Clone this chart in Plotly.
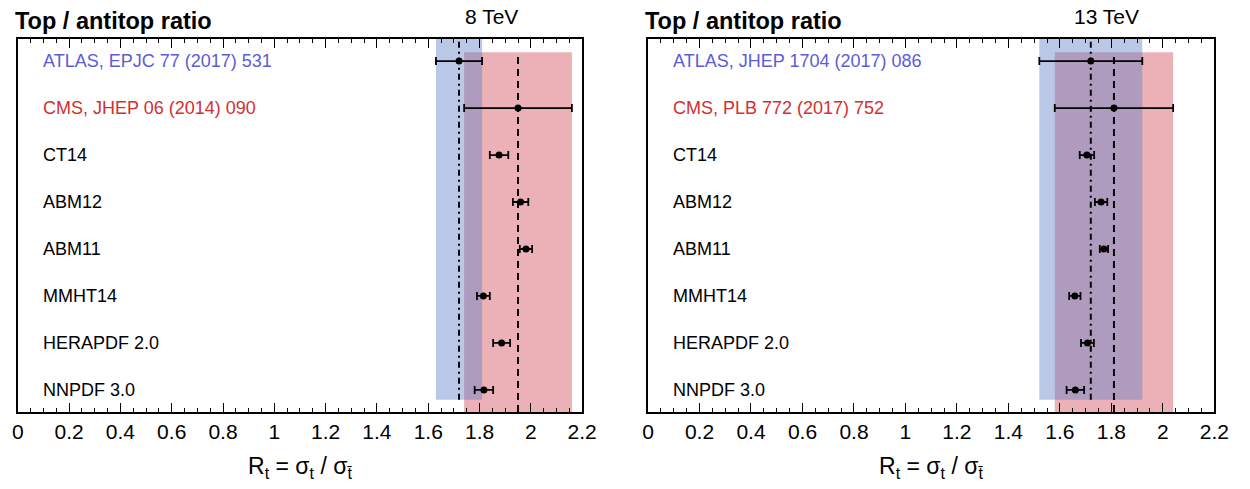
import plotly.graph_objects as go
from plotly.subplots import make_subplots

# ---------------- data ----------------
labels_8 = ["ATLAS, EPJC 77 (2017) 531", "CMS, JHEP 06 (2014) 090", "CT14", "ABM12",
            "ABM11", "MMHT14", "HERAPDF 2.0", "NNPDF 3.0"]
labels_13 = ["ATLAS, JHEP 1704 (2017) 086", "CMS, PLB 772 (2017) 752", "CT14", "ABM12",
             "ABM11", "MMHT14", "HERAPDF 2.0", "NNPDF 3.0"]
row_pos = [7, 6, 5, 4, 3, 2, 1, 0]

val_8 = [1.72, 1.95, 1.876, 1.960, 1.981, 1.815, 1.886, 1.817]
err_8 = [0.09, 0.21, 0.036, 0.030, 0.024, 0.025, 0.033, 0.036]
val_13 = [1.72, 1.81, 1.705, 1.760, 1.771, 1.658, 1.707, 1.660]
err_13 = [0.20, 0.23, 0.028, 0.024, 0.016, 0.022, 0.025, 0.034]

energies = ["8 TeV", "13 TeV"]
x_ticks = [0, 0.2, 0.4, 0.6, 0.8, 1, 1.2, 1.4, 1.6, 1.8, 2, 2.2]
x_ticktext = ["0", "0.2", "0.4", "0.6", "0.8", "1", "1.2", "1.4", "1.6", "1.8", "2", "2.2"]

# ---------------- style ----------------
W, H = 1250, 489
FONT = "Liberation Sans, Arial, sans-serif"
BLUE_TXT = "#5c5cd8"
RED_TXT = "#d42f2f"
BLUE_BAND = "rgba(90,125,200,0.42)"
RED_BAND = "rgba(212,85,95,0.46)"
Y_RANGE = [-0.47, 7.47]
BLUE_BOTTOM = -0.21
RED_TOP = 7.19
LABEL_X = 0.09

frames_px = [(12, 586), (653, 1229)]
top_px, bot_px = 39, 412

fig = make_subplots(rows=1, cols=2)

panels = [(val_8, err_8, labels_8), (val_13, err_13, labels_13)]
for i, (vals, errs, labs) in enumerate(panels):
    col = i + 1
    xr = "x" if i == 0 else "x2"
    yr = "y" if i == 0 else "y2"
    # bands: CMS (red) then ATLAS (blue) on top
    fig.add_shape(type="rect", xref=xr, yref=yr,
                  x0=vals[1] - errs[1], x1=vals[1] + errs[1], y0=Y_RANGE[0], y1=RED_TOP,
                  fillcolor=RED_BAND, line_width=0, layer="below")
    fig.add_shape(type="rect", xref=xr, yref=yr,
                  x0=vals[0] - errs[0], x1=vals[0] + errs[0], y0=BLUE_BOTTOM, y1=Y_RANGE[1],
                  fillcolor=BLUE_BAND, line_width=0, layer="below")
    # central lines
    fig.add_shape(type="line", xref=xr, yref=yr, x0=vals[0], x1=vals[0],
                  y0=BLUE_BOTTOM, y1=Y_RANGE[1],
                  line=dict(color="black", width=2, dash="6px,4px,2px,4px"))
    fig.add_shape(type="line", xref=xr, yref=yr, x0=vals[1], x1=vals[1],
                  y0=Y_RANGE[0], y1=RED_TOP,
                  line=dict(color="black", width=2, dash="7px,5px"))
    # points
    fig.add_trace(go.Scatter(
        x=vals, y=row_pos, mode="markers",
        marker=dict(color="black", size=7),
        error_x=dict(type="data", array=errs, visible=True, color="black",
                     thickness=1.8, width=4),
        showlegend=False, hoverinfo="skip"), row=1, col=col)
    # row labels
    for j, lab in enumerate(labs):
        c = BLUE_TXT if j == 0 else (RED_TXT if j == 1 else "black")
        fig.add_annotation(x=LABEL_X, y=row_pos[j], xref=xr, yref=yr, text=lab,
                           showarrow=False, xanchor="left", yanchor="middle",
                           font=dict(family=FONT, size=18, color=c))

# axes
for i, (l, r) in enumerate(frames_px):
    xa = "xaxis" if i == 0 else "xaxis2"
    ya = "yaxis" if i == 0 else "yaxis2"
    fig.update_layout({
        xa: dict(domain=[l / W, r / W], range=[0, 2.2], showgrid=False, zeroline=False,
                 showline=True, linecolor="black", linewidth=1.8, mirror="allticks",
                 ticks="inside", ticklen=9, tickwidth=1.3, tickcolor="black",
                 tickvals=x_ticks, ticktext=x_ticktext,
                 tickfont=dict(family=FONT, size=21, color="black"),
                 minor=dict(dtick=0.05, tick0=0, ticks="inside", ticklen=4.5,
                            tickwidth=1.1, tickcolor="black", showgrid=False),
                 fixedrange=True),
        ya: dict(domain=[1 - bot_px / H, 1 - top_px / H], range=Y_RANGE, showgrid=False,
                 zeroline=False, showline=True, linecolor="black", linewidth=1.8,
                 mirror=True, ticks="", showticklabels=False, fixedrange=True),
    })

# titles
for i, (l, r) in enumerate(frames_px):
    fig.add_annotation(x=(l - 5) / W, y=1 - 21 / H, xref="paper", yref="paper",
                       text="<b>Top / antitop ratio</b>", showarrow=False,
                       xanchor="left", yanchor="middle",
                       font=dict(family=FONT, size=23.5, color="black"))
    ex = [494, 1119][i]
    fig.add_annotation(x=ex / W, y=1 - 17 / H, xref="paper", yref="paper",
                       text=energies[i], showarrow=False, xanchor="center", yanchor="middle",
                       font=dict(family=FONT, size=21, color="black"))
    fig.add_annotation(x=(l + r) / 2 / W, y=1 - 467 / H, xref="paper", yref="paper",
                       text="R<sub>t</sub> = σ<sub>t</sub> / σ<sub>t\u0304</sub>",
                       showarrow=False, xanchor="center", yanchor="middle",
                       font=dict(family=FONT, size=23, color="black"))

fig.update_layout(width=W, height=H, margin=dict(l=0, r=0, t=0, b=0),
                  paper_bgcolor="white", plot_bgcolor="white", showlegend=False)

fig.write_html("out.html")
